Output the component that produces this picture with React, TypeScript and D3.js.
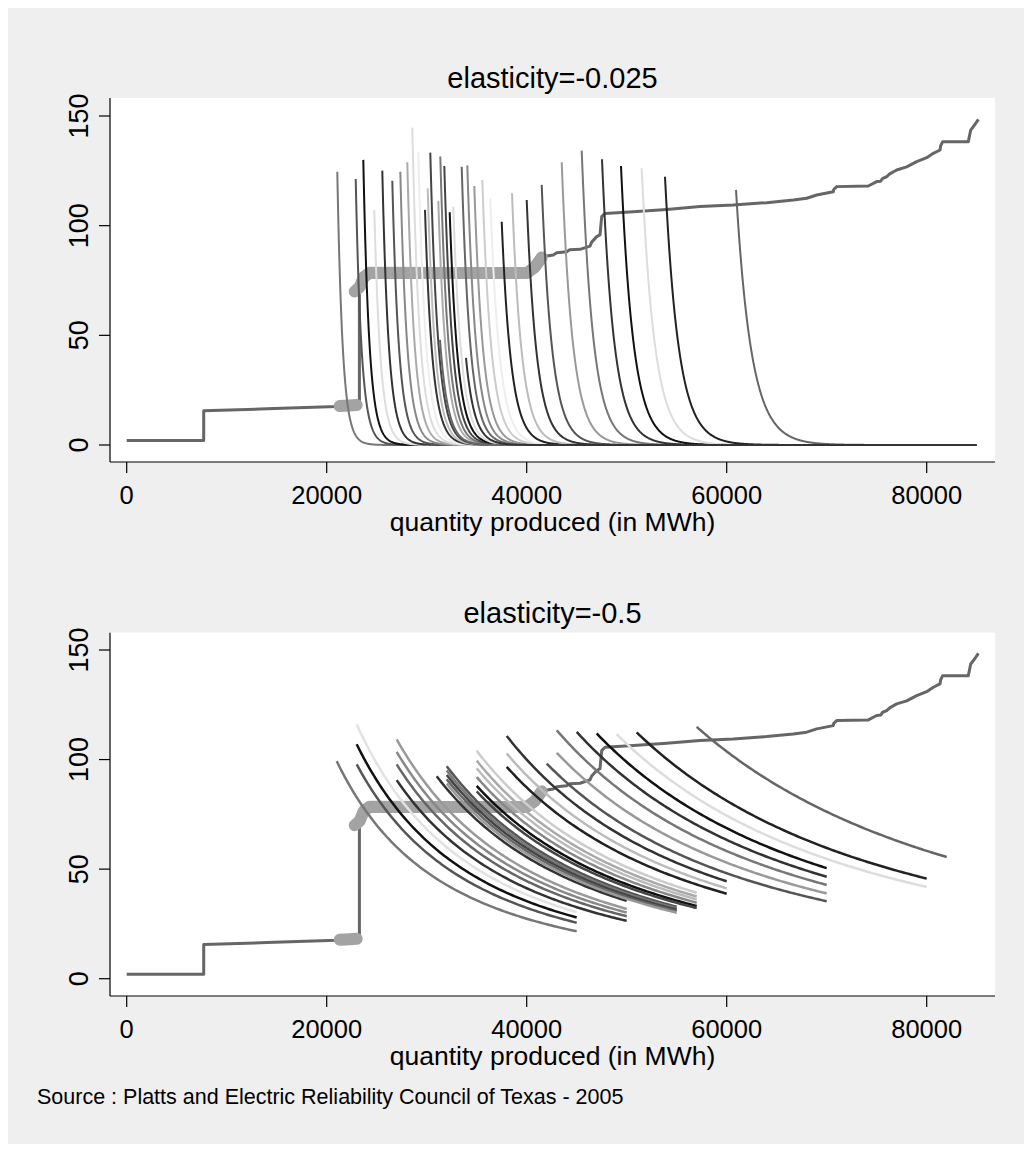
import React from 'react';
import * as d3 from 'd3';

// ---------- data ----------
const panelTitles = ['elasticity=-0.025', 'elasticity=-0.5'];
const elasticities = [-0.025, -0.5];
const xTicks = [0, 20000, 40000, 60000, 80000];
const yTicks = [0, 50, 100, 150];
const xLabel = 'quantity produced (in MWh)';
const sourceNote = 'Source : Platts and Electric Reliability Council of Texas - 2005';

// supply curve (merit order), MWh vs price
const supplyQ = [0, 7700, 7700, 14000, 21000, 23270, 23270, 23600, 24200, 30000, 40000, 40700, 41700, 42660, 43000, 44000, 44300, 45330, 46330, 46500, 47000, 47330, 47500, 47830, 50660, 54000, 57330, 60660, 64000, 66660, 68000, 69000, 70660, 70700, 71000, 74160, 75000, 75400, 75600, 76000, 76300, 77000, 78000, 79000, 80000, 80660, 81330, 81400, 81600, 84160, 84400, 84800, 85170];
const supplyP = [2, 2, 15.6, 16.5, 17.5, 18.2, 69, 75, 78, 78.2, 78.4, 81, 85.9, 86.6, 87.6, 88.1, 89, 89.2, 90.7, 92.5, 95, 95.8, 104.1, 105.6, 106.4, 107.4, 108.7, 109.4, 110.5, 111.7, 112.5, 114, 115.5, 116.5, 117.8, 118.1, 120.1, 120.3, 121.6, 122.3, 123.6, 125.4, 126.8, 129.2, 131, 133, 134.5, 136.5, 138.3, 138.3, 143.6, 146, 148.5];

// highlighted (observed) range of the supply curve
const bandAQ = [21300, 22300, 23000];
const bandAP = [17.8, 18, 18.2];
const bandBQ = [22800, 23300, 23700, 24300, 32000, 40000, 40800, 41500];
const bandBP = [70, 72, 76.5, 78.5, 78.4, 78.4, 81, 85.5];

// demand curves, elasticity -0.025
const topQ0 = [21060, 22900, 23660, 24760, 25560, 26560, 27360, 28060, 28560, 29160, 29830, 30100, 30360, 31160, 31360, 31760, 32300, 32660, 33500, 34060, 34760, 35560, 36360, 37500, 38530, 40000, 41500, 43500, 45500, 47530, 49430, 51500, 53830, 60930, 31330, 33930];
const topP0 = [124.6, 121.3, 130, 107.2, 125.1, 120.5, 124.6, 128.9, 144.7, 133.5, 107.2, 117, 133.3, 111.3, 131.5, 127.2, 106.1, 108.7, 126.9, 127.5, 118.1, 120.8, 112.5, 101.8, 114.8, 111.7, 118.6, 128.9, 134.2, 130.3, 127.2, 126.2, 122.3, 116.3, 47.9, 39.7];
const topColor = ['#777', '#555', '#111', '#ddd', '#333', '#555', '#888', '#aaa', '#ddd', '#eee', '#333', '#bbb', '#444', '#aaa', '#777', '#444', '#111', '#ddd', '#666', '#888', '#999', '#ccc', '#eee', '#222', '#bbb', '#333', '#555', '#999', '#777', '#333', '#111', '#ddd', '#222', '#666', '#666', '#333'];
const topQEnd = 85000;

// demand curves, elasticity -0.5
const botQ0 = [21000, 23000, 23000, 23000, 27000, 27000, 27000, 27000, 31000, 32000, 32000, 32000, 32000, 32000, 35000, 35000, 35000, 35000, 35000, 35000, 38000, 38000, 38000, 42000, 43000, 43000, 45000, 47000, 49000, 51000, 57000];
const botP0 = [99.3, 116.1, 107, 97.8, 109.2, 103.5, 97.8, 90.6, 92.4, 97, 95, 93, 91, 89, 104, 99.5, 96, 92, 88, 85.5, 110.8, 102.8, 96.7, 98.2, 113.4, 103.1, 112.6, 111.9, 111.6, 112.4, 114.9];
const botQ1 = [45000, 45000, 45000, 45000, 50000, 50000, 50000, 50000, 50000, 55000, 55000, 55000, 55000, 55000, 57000, 57000, 57000, 57000, 57000, 57000, 60000, 60000, 60000, 70000, 70000, 70000, 70000, 70000, 80000, 80000, 82000];
const botColor = ['#777', '#e2e2e2', '#111', '#555', '#999', '#888', '#666', '#333', '#333', '#555', '#777', '#444', '#666', '#999', '#ccc', '#aaa', '#bbb', '#888', '#111', '#444', '#333', '#bbb', '#222', '#555', '#777', '#999', '#333', '#111', '#ddd', '#222', '#666'];

// ---------- layout ----------
const W = 1032;
const H = 1152;
const FONT = '"Liberation Sans", Arial, Helvetica, sans-serif';
const plotLeft = 110;
const plotRight = 995;
const panels = [
  { plotTop: 98, plotBottom: 462, y0: 445, y150: 116, titleY: 88, tickY: 504, labelY: 531 },
  { plotTop: 632.7, plotBottom: 996, y0: 978.7, y150: 650, titleY: 623, tickY: 1038, labelY: 1065 },
];

const x = d3.scaleLinear().domain([0, 80000]).range([126.7, 926.7]);

function demandPoints(q0: number, p0: number, q1: number, e: number, step: number): [number, number][] {
  const qs = d3.range(q0, q1, step).concat([q1]);
  return qs.map((q) => [q, p0 * Math.pow(q / q0, 1 / e)] as [number, number]);
}

function Panel({ idx }: { idx: number }) {
  const p = panels[idx];
  const y = d3.scaleLinear().domain([0, 150]).range([p.y0, p.y150]);
  const line = d3
    .line<[number, number]>()
    .x((d) => x(d[0]))
    .y((d) => y(d[1]));
  const supply = supplyQ.map((q, i) => [q, supplyP[i]] as [number, number]);
  const bandA = bandAQ.map((q, i) => [q, bandAP[i]] as [number, number]);
  const bandB = bandBQ.map((q, i) => [q, bandBP[i]] as [number, number]);
  const e = elasticities[idx];

  const curves =
    idx === 0
      ? topQ0.map((q0, i) => ({
          d: line(demandPoints(q0, topP0[i], topQEnd, e, 40)) || '',
          c: topColor[i],
        }))
      : botQ0.map((q0, i) => ({
          d: line(demandPoints(q0, botP0[i], botQ1[i], e, 250)) || '',
          c: botColor[i],
        }));

  return (
    <g>
      <rect x={plotLeft} y={p.plotTop} width={plotRight - plotLeft} height={p.plotBottom - p.plotTop} fill="#ffffff" />
      <text x={(plotLeft + plotRight) / 2} y={p.titleY} textAnchor="middle" fontSize={29} fontFamily={FONT} fill="#000">
        {panelTitles[idx]}
      </text>
      {/* supply curve */}
      <path d={line(supply) || ''} fill="none" stroke="#666666" strokeWidth={3} strokeLinejoin="round" />
      <path d={line(bandA) || ''} fill="none" stroke="#a3a3a3" strokeWidth={12} strokeLinejoin="round" strokeLinecap="round" />
      <path d={line(bandB) || ''} fill="none" stroke="#a3a3a3" strokeWidth={12} strokeLinejoin="round" strokeLinecap="round" />
      {/* demand curves */}
      {curves.map((c, i) => (
        <path key={i} d={c.d} fill="none" stroke={c.c} strokeWidth={idx === 0 ? 2 : 2.5} />
      ))}
      {/* axes */}
      <line x1={plotLeft} x2={plotLeft} y1={p.plotTop} y2={p.plotBottom} stroke="#000" strokeWidth={1.2} />
      <line x1={plotLeft} x2={plotRight} y1={p.plotBottom} y2={p.plotBottom} stroke="#000" strokeWidth={1.2} />
      {yTicks.map((t) => (
        <g key={'y' + t}>
          <line x1={plotLeft - 11} x2={plotLeft} y1={y(t)} y2={y(t)} stroke="#000" strokeWidth={1.2} />
          <text
            transform={`translate(88,${y(t)}) rotate(-90)`}
            textAnchor="middle"
            fontSize={27}
            fontFamily={FONT}
            fill="#000"
          >
            {t}
          </text>
        </g>
      ))}
      {xTicks.map((t) => (
        <g key={'x' + t}>
          <line x1={x(t)} x2={x(t)} y1={p.plotBottom} y2={p.plotBottom + 11} stroke="#000" strokeWidth={1.2} />
          <text x={x(t)} y={p.tickY} textAnchor="middle" fontSize={25.5} fontFamily={FONT} fill="#000">
            {t}
          </text>
        </g>
      ))}
      <text x={(plotLeft + plotRight) / 2} y={p.labelY} textAnchor="middle" fontSize={26.5} fontFamily={FONT} fill="#000">
        {xLabel}
      </text>
    </g>
  );
}

export default function App() {
  return (
    <svg width={W - 16} height={H - 16} style={{ display: 'block' }}>
      <g transform="translate(-8,-8)">
        <rect x={8} y={8} width={W - 16} height={H - 16} fill="#efefef" />
        <Panel idx={0} />
        <Panel idx={1} />
        <text x={37} y={1104} fontSize={21.5} fontFamily={FONT} fill="#000">
          {sourceNote}
        </text>
      </g>
    </svg>
  );
}
